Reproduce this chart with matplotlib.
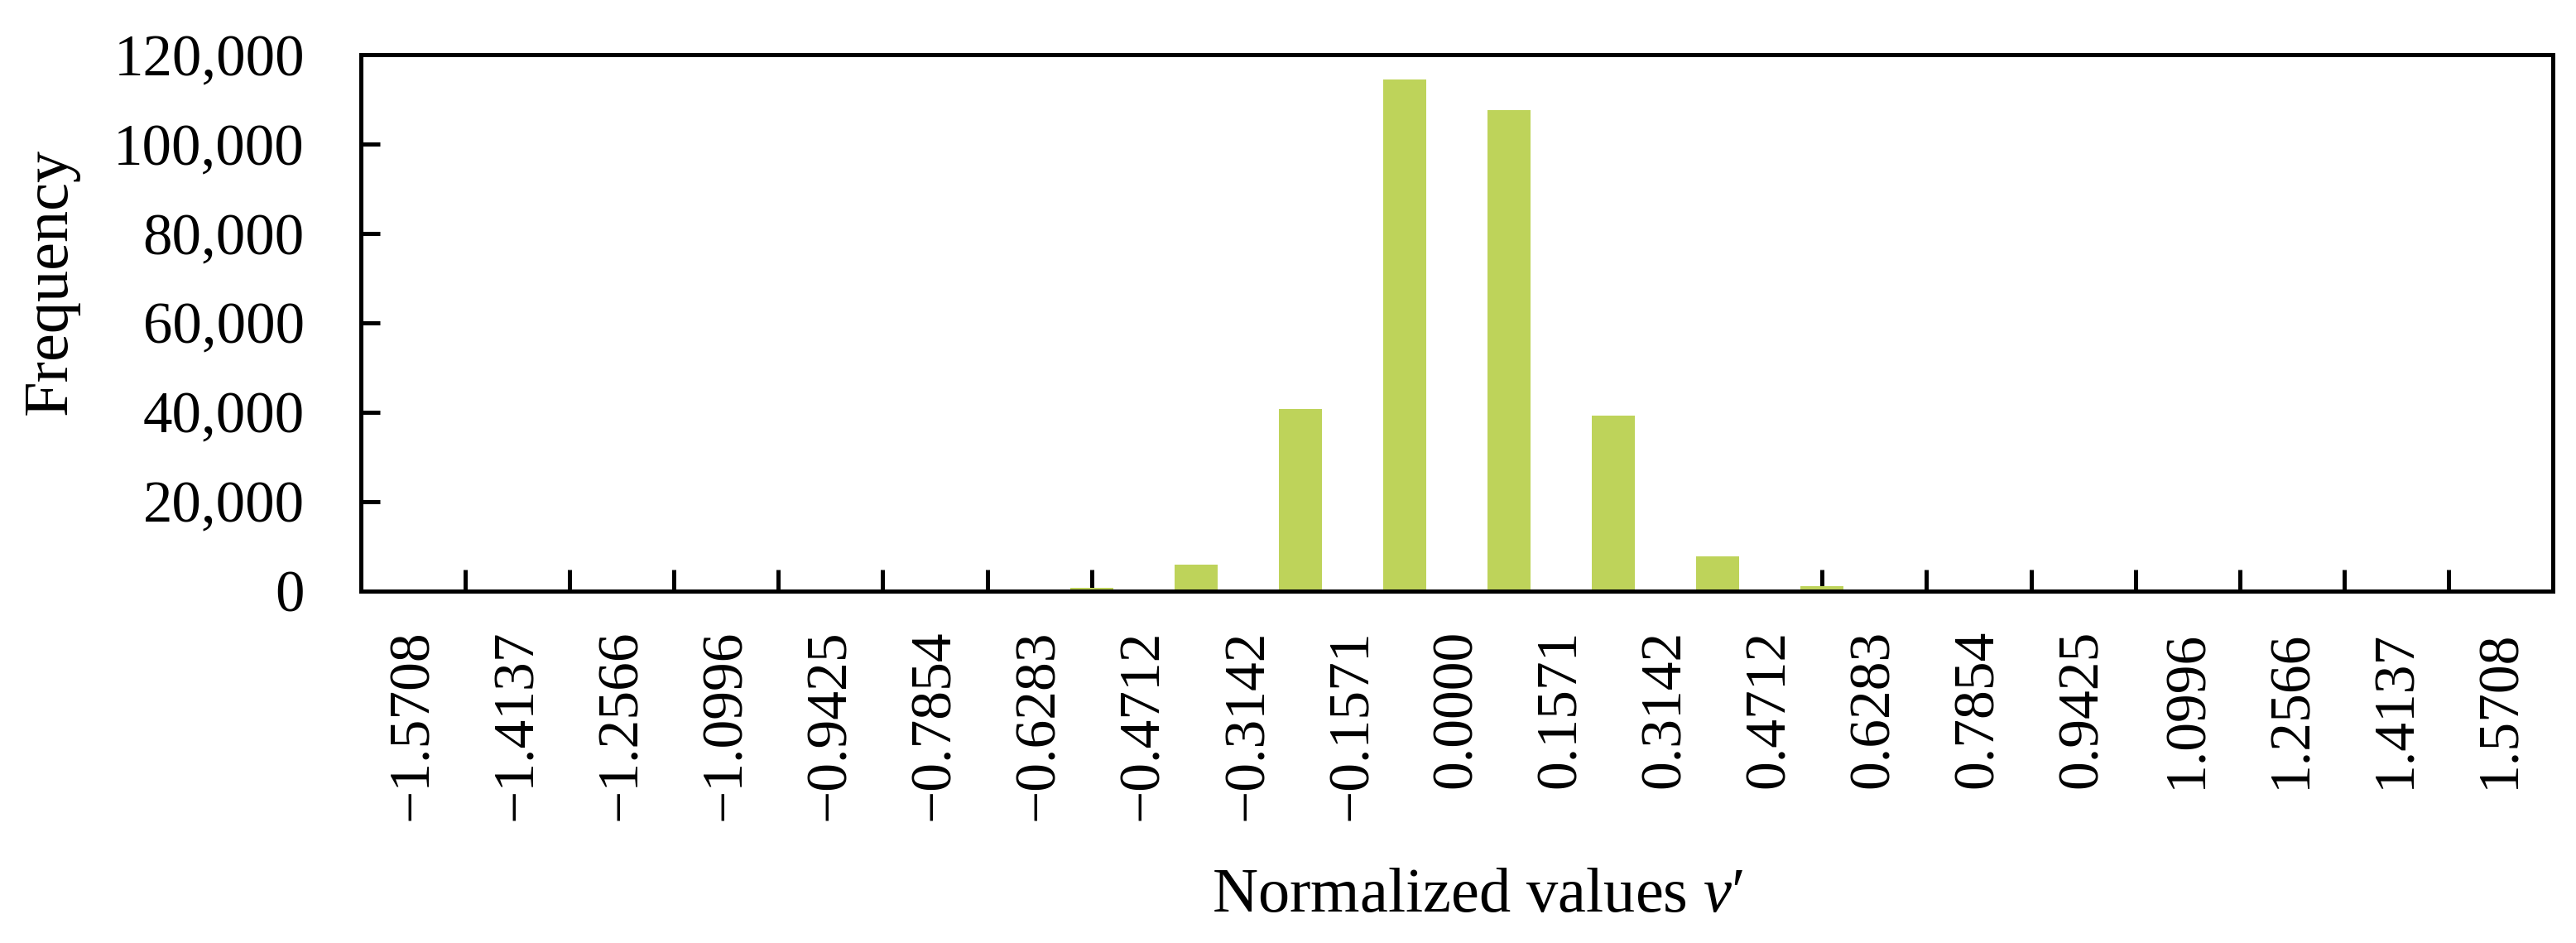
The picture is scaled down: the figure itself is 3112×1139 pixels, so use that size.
import matplotlib
matplotlib.use("Agg")
import matplotlib.pyplot as plt
import numpy as np
from matplotlib.ticker import FixedLocator, FuncFormatter

# ---- data ----
edge_labels = ["−1.5708", "−1.4137", "−1.2566", "−1.0996", "−0.9425", "−0.7854",
               "−0.6283", "−0.4712", "−0.3142", "−0.1571", "0.0000", "0.1571",
               "0.3142", "0.4712", "0.6283", "0.7854", "0.9425", "1.0996",
               "1.2566", "1.4137", "1.5708"]
frequency = [0, 0, 0, 0, 0, 0, 650, 5840, 40700, 114500, 107700, 39200,
             7730, 1000, 0, 0, 0, 0, 0, 0]
y_ticks = [0, 20000, 40000, 60000, 80000, 100000, 120000]

bar_color = "#BED35A"
font = "Liberation Serif"
plt.rcParams["font.family"] = [font, "DejaVu Serif"]
plt.rcParams["mathtext.fontset"] = "custom"
plt.rcParams["mathtext.rm"] = font
plt.rcParams["mathtext.it"] = font + ":italic"

W, H = 3112, 1139
fig = plt.figure(figsize=(W / 100, H / 100), dpi=100)
left, right, top, bottom = 436, 3084, 66.4, 713.5
ax = fig.add_axes([left / W, 1 - bottom / H, (right - left) / W, (bottom - top) / H])

n_cat = len(edge_labels)
cat_pos = np.arange(n_cat)
bar_pos = np.arange(len(frequency)) + 0.5
ax.bar(bar_pos, frequency, width=0.41, color=bar_color, zorder=2)

ax.set_xlim(-0.5, n_cat - 0.5)
ax.set_ylim(0, 120000)

ax.xaxis.set_major_locator(FixedLocator(cat_pos))
ax.set_xticklabels(edge_labels, rotation=90, ha="center", va="top", fontsize=50)
ax.xaxis.set_minor_locator(FixedLocator(bar_pos))
ax.tick_params(axis="x", which="major", length=0, pad=34)
ax.tick_params(axis="x", which="minor", direction="in", length=18.7, width=3.6)

ax.yaxis.set_major_locator(FixedLocator(y_ticks))
ax.yaxis.set_major_formatter(FuncFormatter(lambda v, p: f"{int(v):,}"))
ax.tick_params(axis="y", which="major", direction="in", length=16.5, width=3.6,
               pad=49, labelsize=51)
ax.tick_params(axis="y", which="minor", length=0)

for s in ax.spines.values():
    s.set_linewidth(3.6)
    s.set_zorder(3)

fig.text(61 / W, 1 - 340 / H, "Frequency", rotation=90, ha="center", va="center",
         fontsize=55)
fig.text(1785 / W, 1 - 1082 / H, r"Normalized values $v$′", ha="center",
         va="center", fontsize=55)

fig.savefig("out.png", dpi=100, facecolor="white")
